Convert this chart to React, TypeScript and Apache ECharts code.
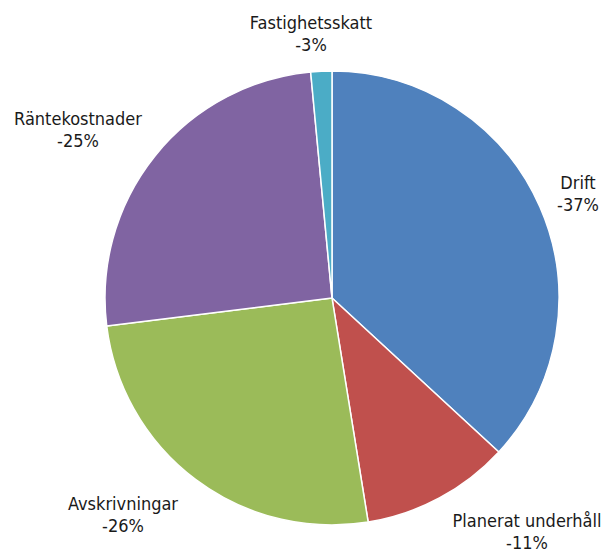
import React, { useEffect, useRef } from "react";
import * as echarts from "echarts";

const CATEGORIES = ["Drift", "Planerat underhåll", "Avskrivningar", "Räntekostnader", "Fastighetsskatt"];
const VALUES = [36.9, 10.6, 25.6, 25.5, 1.5];
const PERCENT_LABELS = ["-37%", "-11%", "-26%", "-25%", "-3%"];
const COLORS = ["#4F81BD", "#C0504D", "#9BBB59", "#8064A2", "#4BACC6"];
const LABEL_POS: [number, number][] = [
  [578, 193],
  [527, 531],
  [123, 514],
  [78, 129],
  [311, 33],
];

const FONT = '"Liberation Sans Narrow", "Arial Narrow", "DejaVu Sans Condensed", sans-serif';

export default function App() {
  const ref = useRef<HTMLDivElement>(null);
  useEffect(() => {
    if (!ref.current) return;
    const chart = echarts.init(ref.current, undefined, { renderer: "svg" });
    chart.setOption({
      animation: false,
      backgroundColor: "#ffffff",
      series: [
        {
          type: "pie",
          center: [332, 298],
          radius: 227,
          startAngle: 90,
          clockwise: true,
          data: CATEGORIES.map((name, i) => ({
            name,
            value: VALUES[i],
            itemStyle: { color: COLORS[i] },
          })),
          itemStyle: { borderColor: "#ffffff", borderWidth: 1.5 },
          label: {
            show: true,
            position: "outside",
            formatter: (p: any) => `${p.name}\n${PERCENT_LABELS[p.dataIndex]}`,
            fontFamily: FONT,
            fontSize: 18,
            lineHeight: 22,
            color: "#1a1a1a",
            align: "center",
            overflow: "none",
            width: 200,
          },
          labelLine: { show: false },
          labelLayout: (params: any) => {
            const pos = LABEL_POS[params.dataIndex];
            return { x: pos[0], y: pos[1], align: "center", verticalAlign: "middle" };
          },
          emphasis: { disabled: true },
        },
      ],
    });
    return () => chart.dispose();
  }, []);
  return (
    <div
      ref={ref}
      style={{ position: "fixed", left: 0, top: 0, width: 603, height: 555 }}
    />
  );
}
